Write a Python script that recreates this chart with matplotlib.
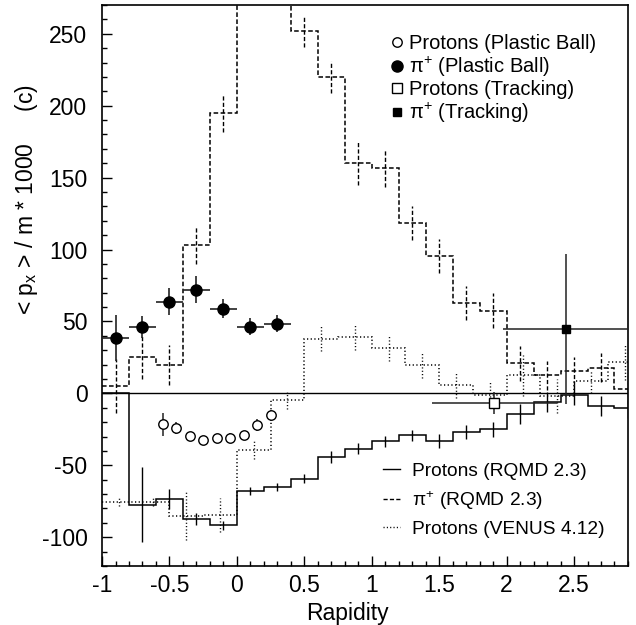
import numpy as np
import matplotlib
matplotlib.use('Agg')
import matplotlib.pyplot as plt
from matplotlib.ticker import MultipleLocator, FormatStrFormatter
from matplotlib.lines import Line2D

plt.rcParams['font.family'] = ['Liberation Sans', 'DejaVu Sans']
plt.rcParams['mathtext.default'] = 'regular'
plt.rcParams['axes.unicode_minus'] = False

# RQMD histograms, bins of 0.2 from -1 to 3
rqmd_edges = np.arange(-1.0, 3.01, 0.2)
prot_rqmd = [0, -77.5, -73.6, -87.5, -91.7, -67.8, -65, -59.3, -44.2, -38.4,
             -33.3, -29.2, -33.1, -26.9, -25, -14.6, -6.0, -0.9, -8.8, -10]
prot_rqmd_err = [0, 26, 7, 4, 3, 3, 3, 3, 4, 4, 4, 4, 5, 5, 5, 7, 7, 7, 7, 7]
pion_rqmd = [5.1, 25.2, 19.7, 103, 194.9, 290, 300, 251.6, 219.9, 160.2,
             156.7, 118.5, 95.4, 63, 57.6, 20.8, 12.5, 15.5, 17.8, 2.8]
pion_rqmd_err = [19, 15, 14, 13, 13, 12, 12, 11, 11, 15,
                 13, 12, 12, 12, 12, 12, 10, 10, 10, 10]

# VENUS histogram, bins of 0.25
venus_edges = np.arange(-1.0, 3.01, 0.25)
prot_venus = [-75.2, -75.2, -85.2, -84.5, -39.4, -4.9, 38, 39.1,
              31.5, 19.7, 5.8, -0.9, 12.5, -1.8, 8.6, 21.8]
prot_venus_err = [3, 3, 17, 11.6, 6, 6, 8.7, 9, 9, 9, 9, 8.7, 14, 12, 8, 12.7]

# Plastic Ball data
pb_prot_y = [-0.55, -0.45, -0.35, -0.25, -0.15, -0.05, 0.05, 0.15, 0.25]
pb_prot = [-21.3, -23.9, -29.6, -32.4, -31.2, -30.8, -29.2, -22, -15.3]
pb_prot_err = [8, 4, 3, 3, 3, 3, 3, 4, 4]
pb_pion_y = [-0.9, -0.7, -0.5, -0.3, -0.1, 0.1, 0.3]
pb_pion = [38.7, 46.3, 63.7, 72.2, 59, 46.3, 48.4]
pb_pion_err = [16, 7.5, 9.5, 9.5, 6.6, 6, 5.8]

# Tracking data
tr_prot_y, tr_prot, tr_prot_xerr, tr_prot_err = [1.91], [-6.7], [0.46], [7.5]
tr_pion_y, tr_pion, tr_pion_xerr, tr_pion_err = [2.44], [44.7], [0.465], [52]

dash = (0, (3, 1.6))
dot = (0, (0.8, 1.6))

fig = plt.figure(figsize=(6.36, 6.25), dpi=100)
ax = fig.add_axes([0.1604, 0.0944, 0.8270, 0.8976])

ax.axhline(0, color='black', lw=1.0, zorder=1)

def hist(edges, vals, errs, ls):
    centers = 0.5 * (edges[:-1] + edges[1:])
    vals = np.asarray(vals, float)
    errs = np.asarray(errs, float)
    ax.stairs(vals, edges, baseline=None, color='black', lw=1.1, linestyle=ls, zorder=2)
    ax.vlines(centers, vals - errs, vals + errs, color='black', lw=1.0,
              linestyles=[ls], zorder=2)

hist(rqmd_edges, prot_rqmd, prot_rqmd_err, '-')
hist(rqmd_edges, pion_rqmd, pion_rqmd_err, dash)
hist(venus_edges, prot_venus, prot_venus_err, dot)

ax.errorbar(pb_pion_y, pb_pion, yerr=pb_pion_err, xerr=0.1, fmt='o', ms=8,
            color='black', ecolor='#222222', elinewidth=1.2, capsize=0, zorder=4)
ax.errorbar(pb_prot_y, pb_prot, yerr=pb_prot_err, fmt='o', ms=6.8, mfc='white',
            mec='black', mew=1.0, ecolor='#222222', elinewidth=1.1, capsize=0, zorder=4)
ax.errorbar(tr_prot_y, tr_prot, yerr=tr_prot_err, xerr=tr_prot_xerr, fmt='s', ms=6.8,
            mfc='white', mec='black', mew=1.0, ecolor='#222222', elinewidth=1.1,
            capsize=0, zorder=4)
ax.errorbar(tr_pion_y, tr_pion, yerr=tr_pion_err, xerr=tr_pion_xerr, fmt='s', ms=6.2,
            color='black', ecolor='#222222', elinewidth=1.1, capsize=0, zorder=4)

ax.set_xlim(-1.0, 2.9)
ax.set_ylim(-120, 270)
ax.xaxis.set_major_locator(MultipleLocator(0.5))
ax.xaxis.set_minor_locator(MultipleLocator(0.1))
ax.yaxis.set_major_locator(MultipleLocator(50))
ax.yaxis.set_minor_locator(MultipleLocator(10))
ax.xaxis.set_major_formatter(FormatStrFormatter('%g'))
ax.tick_params(which='both', direction='in', top=False, right=False,
               labelsize=16.5, width=1.0)
ax.tick_params(which='major', length=7.2)
ax.tick_params(which='minor', length=3.6)
ax.tick_params(axis='x', pad=6)
ax.tick_params(axis='y', pad=10.5)
for s in ax.spines.values():
    s.set_linewidth(1.2)

ax.set_xlabel('Rapidity', fontsize=16.5)
ax.xaxis.set_label_coords(0.4667, -0.064)
fig.text(27 / 636, 1 - 200 / 625, '< p$_{x}$ > / m * 1000     (c)', fontsize=16.5,
         rotation=90, ha='center', va='center')

# marker legend
h1 = [Line2D([], [], marker='o', ls='none', ms=6.8, mfc='white', mec='black'),
      Line2D([], [], marker='o', ls='none', ms=8, color='black'),
      Line2D([], [], marker='s', ls='none', ms=6.8, mfc='white', mec='black'),
      Line2D([], [], marker='s', ls='none', ms=6.2, color='black')]
l1 = ax.legend(h1, ['Protons (Plastic Ball)', 'π$^{+}$ (Plastic Ball)',
                    'Protons (Tracking)', 'π$^{+}$ (Tracking)'],
               loc='upper left', bbox_to_anchor=(0.542, 0.948), frameon=False,
               fontsize=14.5, handlelength=0.95, handletextpad=0.15,
               labelspacing=0.08, borderpad=0, borderaxespad=0)
ax.add_artist(l1)

# model legend
h2 = [Line2D([], [], color='black', lw=1.0, ls='-'),
      Line2D([], [], color='black', lw=1.0, ls=dash),
      Line2D([], [], color='black', lw=1.0, ls=dot)]
ax.legend(h2, ['Protons (RQMD 2.3)', 'π$^{+}$ (RQMD 2.3)', 'Protons (VENUS 4.12)'],
          loc='upper left', bbox_to_anchor=(0.5345, 0.184), frameon=False,
          fontsize=13.8, handlelength=0.9, handletextpad=0.6,
          labelspacing=0.45, borderpad=0, borderaxespad=0)

fig.savefig('out.png', dpi=100)
